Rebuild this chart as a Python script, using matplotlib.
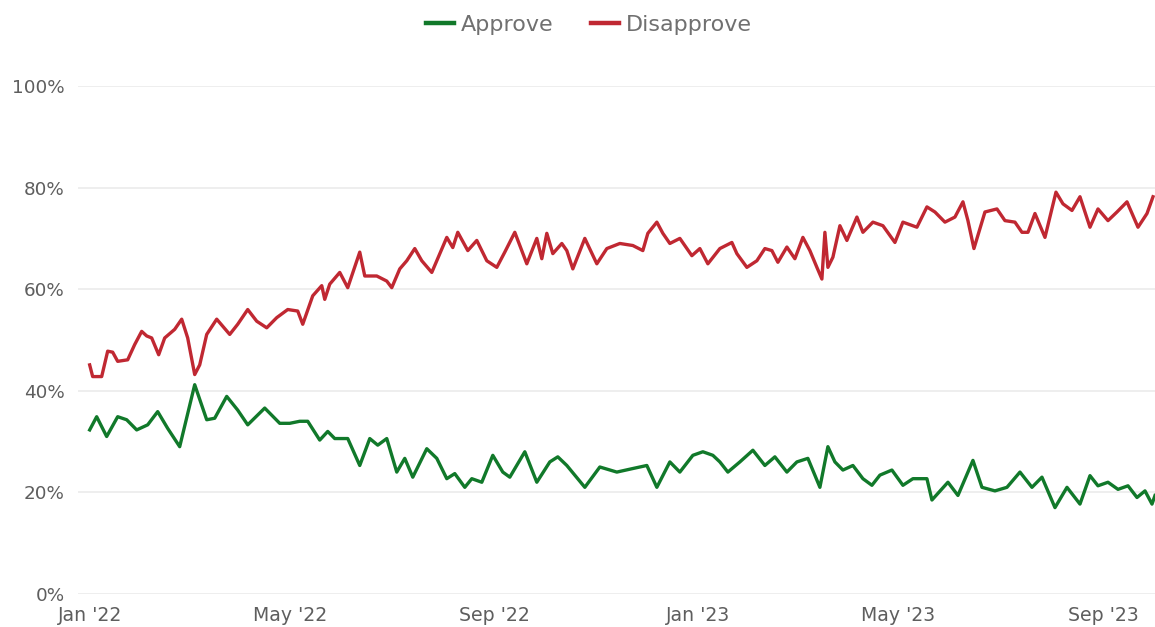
import matplotlib
matplotlib.use("Agg")
import matplotlib.pyplot as plt
import pandas as pd

# Days after 1 Jan 2022 and values (%)
disapprove_days = [0, 1.8, 7.2, 10.8, 13.8, 16.8, 22.8, 27, 31.2, 34.2,
                   37.2, 41.4, 45, 51, 55.2, 58.8, 63, 66, 70.2, 76.2,
                   84, 88.8, 94.8, 100.2, 106.2, 112.2, 118.8, 124.8, 127.8, 133.8,
                   139.2, 141, 144, 150, 154.8, 162, 165, 172.2, 178.2, 181.2,
                   186, 190.2, 195, 199.2, 205.2, 214.2, 217.8, 220.8, 226.8, 232.2,
                   238.2, 244.2, 249, 255, 262.2, 268.2, 271.2, 274.2, 277.8, 283.2,
                   286.2, 289.8, 297, 304.2, 310.2, 318, 325.8, 331.8, 334.8, 340.2,
                   343.8, 348, 354, 361.2, 366, 370.8, 378, 385.2, 388.2, 394.2,
                   400.2, 405, 409.2, 412.8, 418.2, 423, 427.8, 432, 436.2, 439.2,
                   441, 442.8, 445.8, 450, 454.2, 460.2, 463.8, 469.8, 475.8, 483,
                   487.8, 496.2, 502.2, 507, 513, 519, 523.8, 526.8, 530.4, 537,
                   544.2, 549, 555, 559.2, 562.8, 567, 573, 579.6, 583.8, 589.2,
                   594, 600, 604.8, 610.8, 616.2, 622.2, 628.8, 634.2, 637.8]
disapprove = [45.1, 42.8, 42.8, 47.8, 47.6, 45.8, 46.1, 49.1, 51.7, 50.8,
              50.4, 47.1, 50.4, 52.1, 54.1, 50.4, 43.2, 45.1, 51.1, 54.1,
              51.1, 53.1, 56.0, 53.7, 52.4, 54.4, 56.0, 55.7, 53.1, 58.7,
              60.7, 58.0, 61.0, 63.3, 60.3, 67.3, 62.6, 62.6, 61.6, 60.3,
              64.0, 65.6, 68.0, 65.6, 63.3, 70.2, 68.2, 71.2, 67.6, 69.6,
              65.6, 64.3, 67.3, 71.2, 65.0, 70.0, 66.0, 71.0, 67.0, 69.0,
              67.6, 64.0, 70.0, 65.0, 68.0, 69.0, 68.6, 67.6, 71.0, 73.2,
              71.0, 69.0, 70.0, 66.6, 68.0, 65.0, 68.0, 69.2, 67.0, 64.3,
              65.6, 68.0, 67.6, 65.3, 68.3, 66.0, 70.2, 67.6, 64.3, 62.0,
              71.2, 64.3, 66.3, 72.5, 69.6, 74.2, 71.2, 73.2, 72.5, 69.2,
              73.2, 72.2, 76.2, 75.2, 73.2, 74.2, 77.2, 73.5, 68.0, 75.2,
              75.8, 73.5, 73.2, 71.2, 71.2, 74.9, 70.2, 79.1, 76.8, 75.5,
              78.2, 72.2, 75.8, 73.5, 75.2, 77.2, 72.2, 74.9, 78.2]

approve_days = [0, 4.2, 10.2, 16.8, 22.2, 28.2, 34.8, 40.8, 46.8, 54,
                63, 70.2, 75, 82.2, 88.8, 94.8, 105, 114, 120, 126,
                130.8, 138, 142.8, 147, 154.8, 162, 168, 172.8, 178.2, 184.2,
                189, 193.8, 202.2, 208.2, 214.2, 219, 225, 229.2, 235.2, 241.8,
                247.8, 252, 261, 268.2, 276, 280.8, 286.2, 297, 306, 316.2,
                325.8, 334.2, 340.2, 348, 354, 361.8, 367.8, 373.8, 378, 382.8,
                390, 397.8, 405, 411, 418.2, 424.2, 430.8, 438, 442.8, 447,
                451.8, 457.8, 463.8, 469.2, 474, 481.2, 487.8, 493.8, 502.2, 505.2,
                514.8, 520.8, 529.8, 535.2, 543, 550.2, 558, 565.2, 571.2, 579,
                586.2, 594, 600, 604.8, 610.8, 616.8, 622.8, 628.2, 633, 637.2,
                639]
approve = [32.3, 34.9, 31.0, 34.9, 34.3, 32.3, 33.3, 35.9, 32.6, 29.0,
           41.2, 34.3, 34.6, 38.9, 36.2, 33.3, 36.6, 33.6, 33.6, 34.0,
           34.0, 30.3, 32.0, 30.6, 30.6, 25.3, 30.6, 29.3, 30.6, 24.0,
           26.7, 23.0, 28.6, 26.7, 22.7, 23.7, 21.0, 22.7, 22.0, 27.3,
           24.0, 23.0, 28.0, 22.0, 26.0, 27.0, 25.3, 21.0, 25.0, 24.0,
           24.7, 25.3, 21.0, 26.0, 24.0, 27.3, 28.0, 27.3, 26.0, 24.0,
           26.0, 28.3, 25.3, 27.0, 24.0, 26.0, 26.7, 21.0, 29.0, 26.0,
           24.4, 25.3, 22.7, 21.4, 23.4, 24.4, 21.4, 22.7, 22.7, 18.5,
           22.0, 19.4, 26.3, 21.0, 20.3, 21.0, 24.0, 21.0, 23.0, 17.0,
           21.0, 17.7, 23.3, 21.3, 22.0, 20.6, 21.3, 19.0, 20.3, 17.7,
           19.4]

series_names = ["Approve", "Disapprove"]
y_ticks = [0, 20, 40, 60, 80, 100]
y_tick_labels = ["0%", "20%", "40%", "60%", "80%", "100%"]
x_tick_dates = ["2022-01-01", "2022-05-01", "2022-09-01", "2023-01-01", "2023-05-01", "2023-09-01"]
x_tick_labels = ["Jan '22", "May '22", "Sep '22", "Jan '23", "May '23", "Sep '23"]

start = pd.Timestamp("2022-01-01")
d_dates = start + pd.to_timedelta(disapprove_days, unit="D")
a_dates = start + pd.to_timedelta(approve_days, unit="D")

plt.rcParams["font.family"] = ["DejaVu Sans"]

W, H = 1155, 627
fig = plt.figure(figsize=(W / 100, H / 100), dpi=100)
ax = fig.add_axes([78 / W, 33 / H, 1 - 78 / W, (594 - 86) / H])

green = "#11792a"
red = "#c02832"
ax.plot(a_dates, approve, color=green, lw=2.4, solid_joinstyle="round", label=series_names[0], zorder=3)
ax.plot(d_dates, disapprove, color=red, lw=2.4, solid_joinstyle="round", label=series_names[1], zorder=3)

ax.set_ylim(0, 100)
ax.set_xlim(pd.Timestamp("2021-12-25"), pd.Timestamp("2023-10-02"))
ax.set_yticks(y_ticks)
ax.set_yticklabels(y_tick_labels)
ax.set_xticks(pd.to_datetime(x_tick_dates))
ax.set_xticklabels(x_tick_labels)

for s in ax.spines.values():
    s.set_visible(False)
ax.grid(axis="y", color="#ebebeb", lw=1.2, zorder=0)
ax.grid(axis="x", visible=False)
ax.tick_params(axis="both", length=0)
ax.tick_params(axis="y", labelsize=13.2, pad=9.5)
ax.tick_params(axis="x", labelsize=13.6, pad=8.5)
for lab in ax.get_yticklabels() + ax.get_xticklabels():
    lab.set_color("#5e5e5e")

leg = fig.legend(loc="center", bbox_to_anchor=(589 / W, 1 - 25 / H), ncol=2, frameon=False,
                 fontsize=16, handlelength=1.25, handletextpad=0.32, columnspacing=1.7)
for line in leg.get_lines():
    line.set_linewidth(3.2)
for t in leg.get_texts():
    t.set_color("#707070")

fig.savefig("out.png", dpi=100)
